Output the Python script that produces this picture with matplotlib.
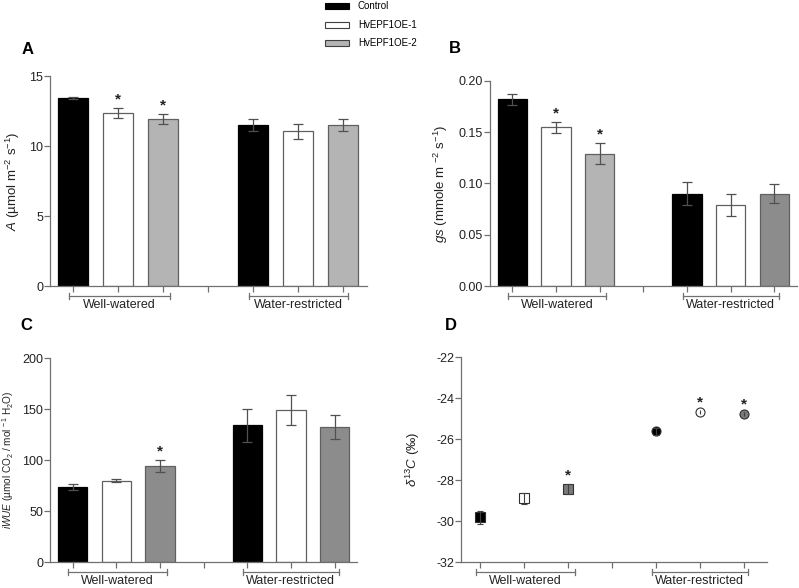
import matplotlib
matplotlib.use('Agg')
import matplotlib.pyplot as plt
from matplotlib.patches import Rectangle

plt.rcParams['font.family'] = ['Liberation Sans', 'DejaVu Sans']
plt.rcParams['mathtext.fontset'] = 'custom'
plt.rcParams['mathtext.rm'] = 'Liberation Sans'
plt.rcParams['mathtext.it'] = 'Liberation Sans:italic'
plt.rcParams['mathtext.bf'] = 'Liberation Sans:bold'

# data
positions = [0, 1, 2, 4, 5, 6]
groups = ['Well-watered', 'Water-restricted']
genotypes = ['Control', 'HvEPF1OE-1', 'HvEPF1OE-2']

A_mean = [13.42, 12.38, 11.93, 11.50, 11.07, 11.52]
A_err = [0.08, 0.36, 0.38, 0.45, 0.53, 0.44]
A_star = [1, 2]

gs_mean = [0.182, 0.1545, 0.129, 0.090, 0.0787, 0.090]
gs_err = [0.0056, 0.0055, 0.0103, 0.0115, 0.0105, 0.0095]
gs_star = [1, 2]

wue_mean = [73.5, 79.7, 94.1, 134.0, 149.3, 132.4]
wue_err = [2.6, 1.7, 5.9, 16.0, 14.5, 11.8]
wue_star = [2]

d13c_mean = [-29.82, -28.90, -28.43, -25.62, -24.70, -24.78]
d13c_err = [0.33, 0.26, 0.24, 0.17, 0.08, 0.06]
d13c_star = [2, 4, 5]

LIGHT = '#b4b4b4'
DARK = '#8c8c8c'
SPINE = '#707070'

fig = plt.figure(figsize=(7.99, 5.88), dpi=100)


def style_axes(ax, ylim, yticks, fmt, xlim=(-0.52, 6.52)):
    ax.set_xlim(*xlim)
    ax.set_ylim(*ylim)
    ax.set_yticks(yticks)
    ax.set_yticklabels([fmt.format(v) for v in yticks])
    ax.set_xticks(range(7))
    ax.set_xticklabels([])
    for s in ['top', 'right']:
        ax.spines[s].set_visible(False)
    for s in ['left', 'bottom']:
        ax.spines[s].set_color(SPINE)
        ax.spines[s].set_linewidth(0.9)
    ax.tick_params(colors=SPINE, labelcolor='#222222', labelsize=9,
                   length=4, width=0.9, pad=1)
    # group brackets under the axis
    tr = ax.get_xaxis_transform()
    h = ax.get_position().height * fig.get_figheight() * fig.dpi
    yb = -10.0 / h
    tk = 3.0 / h
    for (x0, x1), name in zip([(-0.1, 2.15), (3.9, 6.1)], groups):
        ax.plot([x0, x1], [yb, yb], color=SPINE, lw=0.9, transform=tr, clip_on=False)
        for xx in (x0, x1):
            ax.plot([xx, xx], [yb - tk, yb + tk], color=SPINE, lw=0.9,
                    transform=tr, clip_on=False)
        ax.text((x0 + x1) / 2, yb - 2.5 / h, name, transform=tr, ha='center',
                va='top', fontsize=9, color='#222222')


def set_ylab(ax, text, size, xpos):
    ax.set_ylabel(text, fontsize=size, color='#222222')
    ax.yaxis.label.set_va('center')
    ax.yaxis.set_label_coords(xpos, 0.5)


def add_stars(ax, means, errs, idx):
    for i in idx:
        ax.annotate('*', (positions[i], means[i] + errs[i]), xytext=(0, 1),
                    textcoords='offset points', ha='center', va='bottom',
                    fontsize=11, fontweight='bold', color='#222222')


def bar_panel(ax, means, errs, colors, stars):
    for x, m, e, c in zip(positions, means, errs, colors):
        ec = 'black' if c == 'black' else '#606060'
        ax.bar(x, m, width=0.67, color=c, edgecolor=ec, linewidth=0.9, zorder=2)
        ax.errorbar(x, m, yerr=e, fmt='none', ecolor='#505050', elinewidth=0.9,
                    capsize=3.5, capthick=0.9, zorder=3)
    add_stars(ax, means, errs, stars)


# Panel A
axA = fig.add_axes([0.0626, 0.5136, 0.3964, 0.357])
bar_panel(axA, A_mean, A_err, ['black', 'white', LIGHT, 'black', 'white', LIGHT], A_star)
style_axes(axA, (0, 15), [0, 5, 10, 15], '{:g}')
set_ylab(axA, r'$A$ (µmol m$^{\mathrm{-2}}$ s$^{\mathrm{-1}}$)', 9.5, -0.118)

# Panel B
axB = fig.add_axes([0.613, 0.5136, 0.3845, 0.349])
bar_panel(axB, gs_mean, gs_err, ['black', 'white', LIGHT, 'black', 'white', DARK], gs_star)
style_axes(axB, (0, 0.2), [0, 0.05, 0.10, 0.15, 0.20], '{:.2f}')
set_ylab(axB, r'$gs$ (mmole m $^{\mathrm{-2}}$ s$^{\mathrm{-1}}$)', 9.5, -0.158)

# Panel C
axC = fig.add_axes([0.0626, 0.0442, 0.3845, 0.3468])
bar_panel(axC, wue_mean, wue_err, ['black', 'white', DARK, 'black', 'white', DARK], wue_star)
style_axes(axC, (0, 200), [0, 50, 100, 150, 200], '{:g}')
set_ylab(axC, r'$iWUE$ (µmol CO$_{\mathrm{2}}$ / mol $^{\mathrm{-1}}$ H$_{\mathrm{2}}$O)', 7.2, -0.135)

# Panel D
axD = fig.add_axes([0.577, 0.0442, 0.383, 0.3486])
markers = ['s', 's', 's', 'o', 'o', 'o']
mcols = ['black', 'white', '#7a7a7a', 'black', 'white', '#7a7a7a']
for x, m, e, mk, c in zip(positions, d13c_mean, d13c_err, markers, mcols):
    axD.plot(x, m, marker=mk, ms=6.5, color=c, mec='#303030', mew=0.8,
             linestyle='none', zorder=2)
    cap = 2.5 if e > 0.15 else 0
    axD.errorbar(x, m, yerr=max(e, 0.1), fmt='none', ecolor='#404040', elinewidth=0.8,
                 capsize=cap, capthick=0.8, zorder=3)
add_stars(axD, d13c_mean, d13c_err, d13c_star)
style_axes(axD, (-32, -22), [-32, -30, -28, -26, -24, -22], '{:g}', xlim=(-0.44, 6.53))
set_ylab(axD, r'$\delta^{\mathit{13}}C$ $(‰)$', 9.5, -0.158)

# panel letters
for x, y, t in [(0.027, 0.915, 'A'), (0.562, 0.918, 'B'),
                (0.025, 0.447, 'C'), (0.557, 0.447, 'D')]:
    fig.text(x, y, t, fontsize=12, fontweight='bold', ha='left', va='center')

# legend at top
leg_fc = ['black', 'white', LIGHT]
leg_y = [6, 25, 43]
for fc, yy, name in zip(leg_fc, leg_y, genotypes):
    ec = 'black' if fc == 'black' else '#404040'
    fig.add_artist(Rectangle((325 / 799, 1 - (yy + 3) / 588), 24 / 799, 6 / 588,
                             facecolor=fc, edgecolor=ec, linewidth=0.8,
                             transform=fig.transFigure))
    fig.text(358 / 799, 1 - yy / 588, name, fontsize=7, va='center', ha='left')

fig.savefig('out.png', dpi=100)
